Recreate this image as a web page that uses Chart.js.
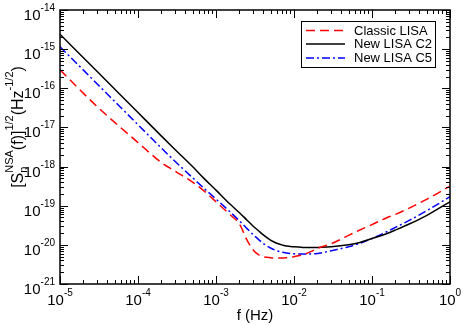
<!DOCTYPE html>
<html>
<head>
<meta charset="utf-8">
<script src="https://cdn.jsdelivr.net/npm/chart.js@4.4.1/dist/chart.umd.min.js"></script>
<style>
  html, body { margin: 0; padding: 0; background: #fff; }
  #wrap { width: 463px; height: 325px; }
</style>
</head>
<body>
<div id="wrap"><canvas id="chart" width="463" height="325"></canvas></div>
<script>
// frequencies (Hz) shared by all curves
const freqHz = [1e-5, 3e-5, 1e-4, 2e-4, 3e-4, 5e-4, 7e-4, 1e-3, 1.5e-3, 2e-3, 2.5e-3, 3e-3,
  3.5e-3, 4e-3, 5e-3, 6e-3, 7e-3, 8e-3, 1e-2, 1.3e-2, 1.7e-2, 2e-2, 3e-2, 5e-2, 7e-2,
  0.1, 0.15, 0.2, 0.3, 0.5, 0.7, 1];

// [S_n(f)]^(1/2)
const classicLisa = [2.95e-16, 3.4e-17, 4.1e-18, 1.26e-18, 7.6e-19, 4.0e-19, 2.4e-19, 1.26e-19,
  6.0e-20, 3.4e-20, 1.32e-20, 7.4e-21, 5.6e-21, 5.0e-21, 4.7e-21, 4.6e-21, 4.6e-21, 4.7e-21,
  5.0e-21, 5.6e-21, 6.9e-21, 8.1e-21, 1.07e-20, 1.74e-20, 2.4e-20, 3.3e-20, 4.8e-20, 6.0e-20,
  8.7e-20, 1.45e-19, 2.1e-19, 3.16e-19];
const newLisaC2 = [2.4e-15, 2.67e-16, 2.4e-17, 6.0e-18, 2.7e-18, 1.0e-18, 5.0e-19, 2.5e-19,
  1.12e-19, 6.6e-20, 4.27e-20, 3.0e-20, 2.3e-20, 1.82e-20, 1.32e-20, 1.1e-20, 1.0e-20, 9.3e-21,
  8.9e-21, 8.6e-21, 8.5e-21, 8.6e-21, 8.9e-21, 1.0e-20, 1.15e-20, 1.45e-20, 1.9e-20, 2.4e-20,
  3.4e-20, 5.6e-20, 8.3e-20, 1.26e-19];
const newLisaC5 = [1.15e-15, 1.29e-16, 1.17e-17, 2.95e-18, 1.35e-18, 5.2e-19, 2.8e-19, 1.48e-19,
  7.1e-20, 4.1e-20, 2.6e-20, 1.82e-20, 1.38e-20, 1.1e-20, 8.3e-21, 7.1e-21, 6.5e-21, 6.2e-21,
  5.9e-21, 5.8e-21, 5.9e-21, 6.0e-21, 7.1e-21, 8.9e-21, 1.1e-20, 1.45e-20, 2.1e-20, 2.8e-20,
  4.2e-20, 7.4e-20, 1.1e-19, 1.7e-19];

// decade exponents used for tick labels
const xTickExps = [-5, -4, -3, -2, -1, 0];
const yTickExps = [-21, -20, -19, -18, -17, -16, -15, -14];

const seriesNames = ['Classic LISA', 'New LISA C2', 'New LISA C5'];
const FONT = '"Liberation Sans", Arial, Helvetica, sans-serif';

function pts(vals) {
  return freqHz.map((f, i) => ({ x: f, y: vals[i] }));
}

// draw "10" with a raised exponent; y is the baseline of "10"
function powLabel(ctx, exp, x, y, align) {
  ctx.font = '15px ' + FONT;
  const w1 = ctx.measureText('10').width;
  ctx.font = '10px ' + FONT;
  const w2 = ctx.measureText(String(exp)).width;
  const left = align === 'right' ? x - w1 - w2 : x - (w1 + w2) / 2;
  ctx.textAlign = 'left';
  ctx.textBaseline = 'alphabetic';
  ctx.font = '15px ' + FONT;
  ctx.fillText('10', left, y);
  ctx.font = '10px ' + FONT;
  ctx.fillText(String(exp), left + w1, y - 9);
}

// rich text run: [text, size, shift] ; shift < 0 raises
function richWidth(ctx, parts) {
  let w = 0;
  parts.forEach(p => {
    if (p.stack) {
      w += Math.max(...p.stack.map(s => { ctx.font = s[1] + 'px ' + FONT; return ctx.measureText(s[0]).width; }));
    } else {
      ctx.font = p[1] + 'px ' + FONT;
      w += ctx.measureText(p[0]).width;
    }
  });
  return w;
}
function richDraw(ctx, parts, x, y) {
  ctx.textAlign = 'left';
  ctx.textBaseline = 'alphabetic';
  parts.forEach(p => {
    if (p.stack) {
      let mw = 0;
      p.stack.forEach(s => {
        ctx.font = s[1] + 'px ' + FONT;
        ctx.fillText(s[0], x, y + s[2]);
        mw = Math.max(mw, ctx.measureText(s[0]).width);
      });
      x += mw;
    } else {
      ctx.font = p[1] + 'px ' + FONT;
      ctx.fillText(p[0], x, y + p[2]);
      x += ctx.measureText(p[0]).width;
    }
  });
}

const axesPlugin = {
  id: 'axesPlugin',
  afterDatasetsDraw(chart) {
    const { ctx, chartArea: a, scales: { x, y } } = chart;
    ctx.save();
    ctx.strokeStyle = '#000';
    ctx.fillStyle = '#000';

    // ticks, all four sides, pointing inward
    ctx.lineWidth = 1;
    ctx.beginPath();
    for (let e = -5; e <= 0; e++) {
      for (let m = 1; m < 10; m++) {
        if (e === 0 && m > 1) break;
        const px = Math.round(x.getPixelForValue(m * Math.pow(10, e))) + 0.5;
        const len = m === 1 ? 8 : 4;
        ctx.moveTo(px, a.bottom); ctx.lineTo(px, a.bottom - len);
        ctx.moveTo(px, a.top); ctx.lineTo(px, a.top + len);
      }
    }
    for (let e = -21; e <= -14; e++) {
      for (let m = 1; m < 10; m++) {
        if (e === -14 && m > 1) break;
        const py = Math.round(y.getPixelForValue(m * Math.pow(10, e))) + 0.5;
        const len = m === 1 ? 8 : 4;
        ctx.moveTo(a.left, py); ctx.lineTo(a.left + len, py);
        ctx.moveTo(a.right, py); ctx.lineTo(a.right - len, py);
      }
    }
    ctx.stroke();

    ctx.lineWidth = 1.5;
    ctx.strokeRect(a.left, a.top, a.right - a.left, a.bottom - a.top);

    // tick labels
    xTickExps.forEach(e => powLabel(ctx, e, x.getPixelForValue(Math.pow(10, e)), a.bottom + 21, 'center'));
    yTickExps.forEach(e => powLabel(ctx, e, a.left - 5, y.getPixelForValue(Math.pow(10, e)) + 10, 'right'));

    // x title
    ctx.font = '15px ' + FONT;
    ctx.textAlign = 'center';
    ctx.textBaseline = 'alphabetic';
    ctx.fillText('f (Hz)', (a.left + a.right) / 2, 320);

    // y title, rotated
    const yTitle = [
      ['[S', 16, 0],
      { stack: [['n', 11, 4], ['NSA', 11, -10]] },
      ['(f)]', 16, 0],
      ['1/2', 11, -10],
      ['(Hz', 16, 0],
      ['-1/2', 11, -10],
      [')', 16, 0]
    ];
    const tw = richWidth(ctx, yTitle);
    ctx.save();
    ctx.translate(23, 127);
    ctx.rotate(-Math.PI / 2);
    richDraw(ctx, yTitle, -tw / 2, 0);
    ctx.restore();

    // legend
    ctx.lineWidth = 1;
    ctx.strokeRect(301.5, 21.5, 134, 46);
    const rows = [30.5, 44, 58];
    chart.data.datasets.forEach((ds, i) => {
      ctx.beginPath();
      ctx.strokeStyle = ds.borderColor;
      ctx.lineWidth = 1.5;
      ctx.setLineDash(ds.borderDash || []);
      ctx.moveTo(306, rows[i]); ctx.lineTo(345, rows[i]);
      ctx.stroke();
      ctx.setLineDash([]);
      ctx.font = '13px ' + FONT;
      ctx.textAlign = 'left';
      ctx.textBaseline = 'middle';
      ctx.fillStyle = '#000';
      ctx.fillText(ds.label, 354, rows[i] + 0.5);
    });
    ctx.restore();
  }
};

new Chart(document.getElementById('chart'), {
  type: 'line',
  data: {
    datasets: [
      { label: seriesNames[0], data: pts(classicLisa), borderColor: '#ff0000', borderDash: [9, 5] },
      { label: seriesNames[1], data: pts(newLisaC2), borderColor: '#000000' },
      { label: seriesNames[2], data: pts(newLisaC5), borderColor: '#0000ff', borderDash: [8, 3, 2, 3] }
    ]
  },
  options: {
    responsive: false,
    animation: false,
    devicePixelRatio: 1,
    layout: { padding: { left: 60, right: 13, top: 10, bottom: 41 } },
    plugins: { legend: { display: false }, tooltip: { enabled: false } },
    elements: {
      point: { radius: 0 },
      line: { borderWidth: 1.5, cubicInterpolationMode: 'monotone', fill: false }
    },
    scales: {
      x: { type: 'logarithmic', min: 1e-5, max: 1, display: false },
      y: { type: 'logarithmic', min: 1e-21, max: 1e-14, display: false }
    }
  },
  plugins: [axesPlugin]
});
</script>
</body>
</html>
